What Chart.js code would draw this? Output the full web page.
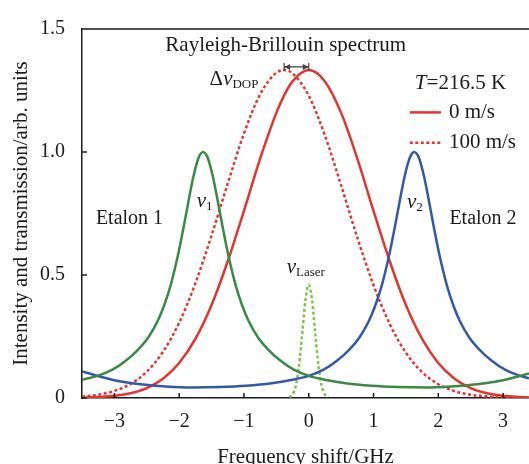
<!DOCTYPE html>
<html>
<head>
<meta charset="utf-8">
<script src="https://cdn.jsdelivr.net/npm/chart.js@4.4.0/dist/chart.umd.min.js"></script>
<style>
  html, body { margin: 0; padding: 0; background: #fff; overflow: hidden; }
  #wrap { width: 529px; height: 464px; }
</style>
</head>
<body>
<div id="wrap"><canvas id="spectrum" width="529" height="464"></canvas></div>
<script>
// Fabry-Perot etalon transmissions
const etalon1X = [-3.5, -3.26, -3.03, -2.83, -2.63, -2.48, -2.33, -2.23, -2.13, -2.03, -1.98, -1.93, -1.88, -1.83, -1.78, -1.73, -1.68, -1.63,
  -1.58, -1.53, -1.48, -1.43, -1.38, -1.33, -1.28, -1.23, -1.13, -1.03, -0.93, -0.78, -0.63, -0.43, -0.23, 0, 0.27, 0.57, 0.97, 1.37, 1.8, 2.2, 2.6, 3.0, 3.4];
const etalon1Y = [0.074, 0.090, 0.115, 0.150, 0.198, 0.245, 0.314, 0.378, 0.460, 0.567, 0.629, 0.696, 0.766, 0.836, 0.900, 0.953, 0.988, 1.0,
  0.988, 0.953, 0.900, 0.836, 0.766, 0.696, 0.629, 0.567, 0.460, 0.378, 0.314, 0.245, 0.198, 0.150, 0.115, 0.090, 0.073, 0.060, 0.050, 0.045, 0.043, 0.047, 0.056, 0.072, 0.100];

const etalon2X = [-3.5, -3.0, -2.6, -2.2, -1.8, -1.37, -0.97, -0.57, -0.27, 0, 0.23, 0.43, 0.63, 0.78, 0.93, 1.03, 1.13, 1.23, 1.28, 1.33, 1.38, 1.43, 1.48, 1.53, 1.58, 1.63,
  1.68, 1.73, 1.78, 1.83, 1.88, 1.93, 1.98, 2.03, 2.13, 2.23, 2.33, 2.48, 2.63, 2.83, 3.03, 3.26, 3.4];
const etalon2Y = [0.108, 0.072, 0.056, 0.047, 0.043, 0.045, 0.050, 0.060, 0.073, 0.090, 0.115, 0.150, 0.198, 0.245, 0.314, 0.378, 0.460, 0.567, 0.629, 0.696, 0.766, 0.836, 0.900, 0.953, 0.988, 1.0,
  0.988, 0.953, 0.900, 0.836, 0.766, 0.696, 0.629, 0.567, 0.460, 0.378, 0.314, 0.245, 0.198, 0.150, 0.115, 0.090, 0.080];

// Rayleigh-Brillouin spectrum, still air and 100 m/s wind
const rbX = [-3.5, -3.25, -3.0, -2.75, -2.5, -2.25, -2.0, -1.75, -1.5, -1.25, -1.0, -0.75, -0.5, -0.38, -0.25, 0,
  0.25, 0.5, 0.75, 1.0, 1.25, 1.5, 1.75, 2.0, 2.25, 2.5, 2.75, 3.0, 3.25, 3.4];
const rbStill = [0.001, 0.004, 0.009, 0.019, 0.040, 0.078, 0.142, 0.240, 0.378, 0.556, 0.761, 0.973, 1.159, 1.230, 1.287, 1.333,
  1.287, 1.159, 0.973, 0.761, 0.556, 0.378, 0.240, 0.142, 0.078, 0.040, 0.019, 0.009, 0.004, 0.002];
const rbWind = [0.006, 0.013, 0.029, 0.057, 0.107, 0.188, 0.306, 0.466, 0.661, 0.872, 1.075, 1.235, 1.322, 1.333, 1.320, 1.229,
  1.067, 0.864, 0.652, 0.459, 0.301, 0.184, 0.105, 0.056, 0.028, 0.013, 0.006, 0.002, 0.001, 0.0];

// laser line
const laserX = [-0.3, -0.25, -0.2, -0.15, -0.1, -0.05, 0, 0.05, 0.1, 0.15, 0.2, 0.25, 0.3];
const laserY = [0.003, 0.014, 0.050, 0.132, 0.264, 0.400, 0.460, 0.400, 0.264, 0.132, 0.050, 0.014, 0.003];

const xTicks = [-3, -2, -1, 0, 1, 2, 3];
const yTicks = [0, 0.5, 1.0, 1.5];

const RED = 'rgb(228, 52, 46)';
const GREEN = 'rgb(58, 138, 70)';
const BLUE = 'rgb(52, 88, 168)';
const LIME = 'rgb(122, 196, 72)';
const INK = '#1a1a1a';
const SERIF = '"Liberation Serif", "Times New Roman", serif';

const pts = (xs, ys) => xs.map((x, i) => ({ x: x, y: ys[i] }));

// draws a run of text pieces (italic / subscript) starting at px, baseline py
function drawParts(ctx, parts, px, py) {
  let cx = px;
  parts.forEach(p => {
    const size = p.sub ? 13 : 21;
    ctx.font = (p.it ? 'italic ' : '') + size + 'px ' + SERIF;
    ctx.fillText(p.t, cx, py + (p.sub ? 3 : 0));
    cx += ctx.measureText(p.t).width;
  });
}

const decorations = {
  id: 'decorations',
  afterDraw(chart) {
    const { ctx, chartArea: a, scales: { x, y } } = chart;
    ctx.save();

    // top frame and inward ticks
    ctx.strokeStyle = INK;
    ctx.lineWidth = 1.5;
    ctx.beginPath();
    ctx.moveTo(a.left, a.top);
    ctx.lineTo(a.right, a.top);
    xTicks.forEach(v => {
      const px = x.getPixelForValue(v);
      ctx.moveTo(px, a.bottom);
      ctx.lineTo(px, a.bottom - 5);
    });
    yTicks.forEach(v => {
      const py = y.getPixelForValue(v);
      ctx.moveTo(a.left, py);
      ctx.lineTo(a.left + 5, py);
    });
    ctx.stroke();

    // Doppler shift marker between the two peaks
    const ax0 = x.getPixelForValue(-0.38), ax1 = x.getPixelForValue(0), ay = y.getPixelForValue(1.346);
    ctx.strokeStyle = '#444';
    ctx.fillStyle = '#444';
    ctx.lineWidth = 1.2;
    ctx.beginPath();
    ctx.moveTo(ax0, ay); ctx.lineTo(ax1, ay);
    ctx.moveTo(ax0, ay - 4); ctx.lineTo(ax0, ay + 4);
    ctx.moveTo(ax1, ay - 4); ctx.lineTo(ax1, ay + 4);
    ctx.stroke();
    ctx.beginPath();
    ctx.moveTo(ax0, ay); ctx.lineTo(ax0 + 6, ay - 3); ctx.lineTo(ax0 + 6, ay + 3); ctx.closePath();
    ctx.moveTo(ax1, ay); ctx.lineTo(ax1 - 6, ay - 3); ctx.lineTo(ax1 - 6, ay + 3); ctx.closePath();
    ctx.fill();

    // labels
    ctx.fillStyle = INK;
    ctx.textBaseline = 'alphabetic';
    ctx.textAlign = 'center';
    ctx.font = '21px ' + SERIF;
    ctx.fillText('Rayleigh-Brillouin spectrum', x.getPixelForValue(-0.355), y.getPixelForValue(1.412));
    ctx.font = '20px ' + SERIF;
    ctx.fillText('Etalon 1', x.getPixelForValue(-2.767), y.getPixelForValue(0.708));
    ctx.fillText('Etalon 2', x.getPixelForValue(2.69), y.getPixelForValue(0.708));

    ctx.textAlign = 'left';
    drawParts(ctx, [{ t: 'Δ' }, { t: 'ν', it: true }, { t: 'DOP', sub: true }], x.getPixelForValue(-1.53), y.getPixelForValue(1.273));
    drawParts(ctx, [{ t: 'T', it: true }, { t: '=216.5 K' }], x.getPixelForValue(1.638), y.getPixelForValue(1.257));
    drawParts(ctx, [{ t: 'ν', it: true }, { t: '1', sub: true }], x.getPixelForValue(-1.73), y.getPixelForValue(0.775));
    drawParts(ctx, [{ t: 'ν', it: true }, { t: '2', sub: true }], x.getPixelForValue(1.515), y.getPixelForValue(0.771));
    drawParts(ctx, [{ t: 'ν', it: true }, { t: 'Laser', sub: true }], x.getPixelForValue(-0.34), y.getPixelForValue(0.509));

    // legend
    const lx0 = x.getPixelForValue(1.56), lx1 = x.getPixelForValue(2.04), tx = x.getPixelForValue(2.164);
    const rows = [[1.161, chart.data.datasets[2]], [1.038, chart.data.datasets[3]]];
    rows.forEach(([v, ds]) => {
      const py = y.getPixelForValue(v);
      ctx.strokeStyle = ds.borderColor;
      ctx.lineWidth = ds.borderWidth;
      ctx.setLineDash(ds.borderDash || []);
      ctx.beginPath();
      ctx.moveTo(lx0, py); ctx.lineTo(lx1, py);
      ctx.stroke();
      ctx.setLineDash([]);
      ctx.font = '21px ' + SERIF;
      ctx.textBaseline = 'middle';
      ctx.fillText(ds.label, tx, py);
    });
    ctx.restore();
  }
};

new Chart(document.getElementById('spectrum'), {
  type: 'line',
  data: {
    datasets: [
      { label: 'Etalon 1', data: pts(etalon1X, etalon1Y), borderColor: GREEN, borderWidth: 2.5 },
      { label: 'Etalon 2', data: pts(etalon2X, etalon2Y), borderColor: BLUE, borderWidth: 2.5 },
      { label: '0 m/s', data: pts(rbX, rbStill), borderColor: RED, borderWidth: 2.5 },
      { label: '100 m/s', data: pts(rbX, rbWind), borderColor: RED, borderWidth: 2.5, borderDash: [3, 2.5] },
      { label: 'Laser', data: pts(laserX, laserY), borderColor: LIME, borderWidth: 2.5, borderDash: [3, 2.5] }
    ]
  },
  options: {
    responsive: false,
    animation: false,
    layout: { padding: { top: 21, right: 0, left: 0, bottom: 0 } },
    elements: {
      point: { radius: 0 },
      line: { cubicInterpolationMode: 'monotone', fill: false, borderCapStyle: 'butt' }
    },
    plugins: { legend: { display: false }, tooltip: { enabled: false } },
    scales: {
      x: {
        type: 'linear',
        min: -3.5,
        max: 3.4,
        afterBuildTicks: s => { s.ticks = xTicks.map(v => ({ value: v })); },
        afterFit: s => { s.height = 66; },
        grid: { display: false, drawTicks: false },
        border: { display: true, color: INK, width: 1.5 },
        ticks: {
          color: INK,
          padding: 12,
          maxRotation: 0,
          autoSkip: false,
          font: { family: SERIF, size: 20 },
          callback: v => v < 0 ? '\u2212' + Math.abs(v) : String(v)
        },
        title: { display: true, text: 'Frequency shift/GHz', color: INK, font: { family: SERIF, size: 21 }, padding: { top: 0, bottom: -6 } }
      },
      y: {
        min: 0,
        max: 1.5,
        afterBuildTicks: s => { s.ticks = yTicks.map(v => ({ value: v })); },
        afterFit: s => { s.width = 82; },
        grid: { display: false, drawTicks: false },
        border: { display: true, color: INK, width: 1.5 },
        ticks: {
          color: INK,
          padding: 17,
          font: { family: SERIF, size: 20 },
          callback: v => v === 0 ? '0' : v.toFixed(1)
        },
        title: { display: true, text: 'Intensity and transmission/arb. units', color: INK, font: { family: SERIF, size: 21 }, padding: { top: 9, bottom: 0 } }
      }
    }
  },
  plugins: [decorations]
});
</script>
</body>
</html>
